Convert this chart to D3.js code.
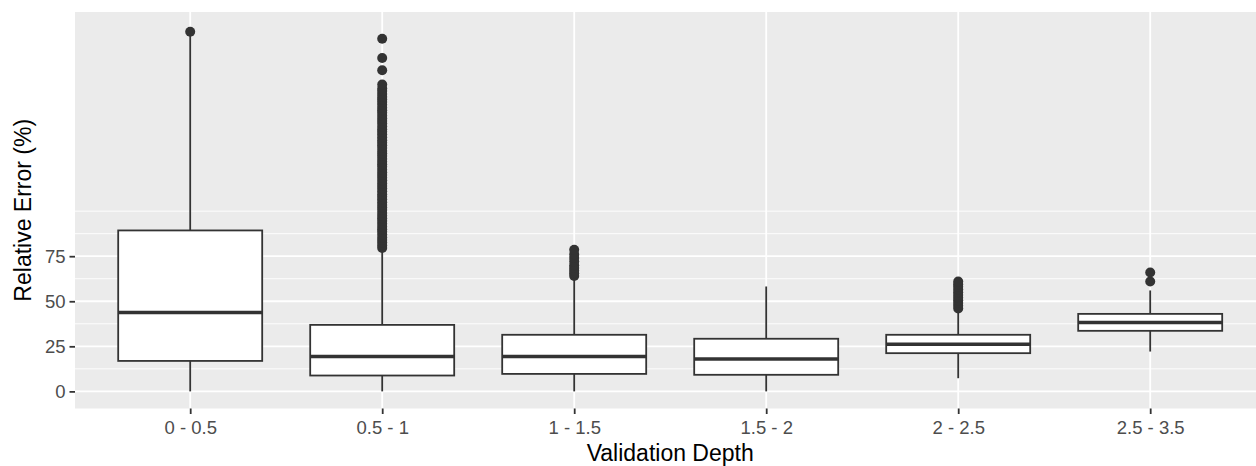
<!DOCTYPE html>
<html>
<head>
<meta charset="utf-8">
<script src="https://cdn.jsdelivr.net/npm/d3@7"></script>
<style>
  html, body { margin: 0; padding: 0; background: #fff; }
  svg { display: block; font-family: "Liberation Sans", Arial, Helvetica, sans-serif; }
</style>
</head>
<body>
<svg id="chart" width="1256" height="466"></svg>
<script>
// ---- Data ----
const categories = ["0 - 0.5", "0.5 - 1", "1 - 1.5", "1.5 - 2", "2 - 2.5", "2.5 - 3.5"];
const lowerWhisker = [0, 0, 0, 0, 7.3, 22.1];
const q1 = [16.9, 8.8, 9.7, 9.2, 21.2, 33.6];
const medians = [43.8, 19.3, 19.3, 17.9, 26.2, 38.2];
const q3 = [89.3, 36.9, 31.4, 29.2, 31.4, 43.0];
const upperWhisker = [197.5, 78.2, 62.0, 58.2, 44.3, 56.0];

const outliers0 = [199.5];
const outliers1 = [79.6, 81, 82.6, 84, 85.4, 87, 88.6, 90, 91.4, 93, 94.6, 96, 97.4, 99, 100.6,
  102, 103.4, 105, 106.6, 108, 109.4, 111, 112.6, 114, 115.4, 117, 118.6, 120, 121.4, 123,
  124.6, 126, 127.4, 129, 130.6, 132, 133.4, 135, 136.6, 138, 139.4, 141, 142.6, 144, 145.4,
  147, 148.6, 150, 151.4, 153, 154.6, 156, 157.4, 159, 160.6, 162, 163.4, 165, 166.6, 168,
  170.3, 178.2, 185, 195.7];
const outliers2 = [64, 65.5, 67, 68.5, 70, 72, 74, 76, 78.6];
const outliers3 = [];
const outliers4 = [46, 47.5, 49, 50.5, 52, 53.5, 55, 56.5, 58, 59.5, 61];
const outliers5 = [61, 66];
const outlierSets = [outliers0, outliers1, outliers2, outliers3, outliers4, outliers5];

const yTicks = [0, 25, 50, 75];
const yMinor = [12.5, 37.5, 62.5, 87.5, 100];
const xTitle = "Validation Depth";
const yTitle = "Relative Error (%)";

// ---- Layout ----
const panel = { left: 75, top: 12, right: 1265.4, bottom: 408.5 };
const svg = d3.select("#chart");

const x = d3.scalePoint().domain(categories).range([panel.left, panel.right]).padding(0.6);
const y = d3.scaleLinear().domain([-9.5, 210.5]).range([panel.bottom, panel.top]);
const boxW = x.step() * 0.75;

const ink = "#333333";

// panel background
svg.append("rect")
  .attr("x", panel.left).attr("y", panel.top)
  .attr("width", panel.right - panel.left).attr("height", panel.bottom - panel.top)
  .attr("fill", "#ebebeb");

// minor grid
svg.append("g").selectAll("line").data(yMinor).join("line")
  .attr("x1", panel.left).attr("x2", panel.right)
  .attr("y1", d => y(d)).attr("y2", d => y(d))
  .attr("stroke", "#fff").attr("stroke-width", 0.9);

// major grid
svg.append("g").selectAll("line").data(yTicks).join("line")
  .attr("x1", panel.left).attr("x2", panel.right)
  .attr("y1", d => y(d)).attr("y2", d => y(d))
  .attr("stroke", "#fff").attr("stroke-width", 1.8);
svg.append("g").selectAll("line").data(categories).join("line")
  .attr("x1", d => x(d)).attr("x2", d => x(d))
  .attr("y1", panel.top).attr("y2", panel.bottom)
  .attr("stroke", "#fff").attr("stroke-width", 1.8);

// boxplots
const stats = categories.map((c, i) => ({
  c, lo: lowerWhisker[i], q1: q1[i], med: medians[i], q3: q3[i], hi: upperWhisker[i], out: outlierSets[i]
}));

const g = svg.append("g");
stats.forEach(s => {
  const cx = x(s.c);
  // whiskers
  g.append("line").attr("x1", cx).attr("x2", cx).attr("y1", y(s.q3)).attr("y2", y(s.hi))
    .attr("stroke", ink).attr("stroke-width", 1.8);
  g.append("line").attr("x1", cx).attr("x2", cx).attr("y1", y(s.q1)).attr("y2", y(s.lo))
    .attr("stroke", ink).attr("stroke-width", 1.8);
  // box
  g.append("rect").attr("x", cx - boxW / 2).attr("width", boxW)
    .attr("y", y(s.q3)).attr("height", y(s.q1) - y(s.q3))
    .attr("fill", "#fff").attr("stroke", ink).attr("stroke-width", 1.8);
  // median
  g.append("line").attr("x1", cx - boxW / 2).attr("x2", cx + boxW / 2)
    .attr("y1", y(s.med)).attr("y2", y(s.med))
    .attr("stroke", ink).attr("stroke-width", 3.5);
  // outliers
  g.selectAll(null).data(s.out).join("circle")
    .attr("cx", cx).attr("cy", d => y(d)).attr("r", 5)
    .attr("fill", ink);
});

// axes
const yAxis = svg.append("g").attr("transform", `translate(${panel.left},0)`)
  .call(d3.axisLeft(y).tickValues(yTicks).tickSize(5.5).tickPadding(4));
const xAxis = svg.append("g").attr("transform", `translate(0,${panel.bottom})`)
  .call(d3.axisBottom(x).tickSize(5.5).tickPadding(7));
[yAxis, xAxis].forEach(a => {
  a.select(".domain").remove();
  a.selectAll(".tick line").attr("stroke", ink).attr("stroke-width", 1.8);
  a.selectAll(".tick text").attr("fill", "#4d4d4d")
    .style("font-size", "18.5px").style("font-family", "'Liberation Sans', Arial, sans-serif");
});

// titles
svg.append("text")
  .attr("x", (panel.left + panel.right) / 2).attr("y", 460.5)
  .attr("text-anchor", "middle").attr("fill", "#000")
  .style("font-size", "23px")
  .text(xTitle);
svg.append("text")
  .attr("transform", `translate(31,${(panel.top + panel.bottom) / 2}) rotate(-90)`)
  .attr("text-anchor", "middle").attr("fill", "#000")
  .style("font-size", "23px")
  .text(yTitle);
</script>
</body>
</html>
